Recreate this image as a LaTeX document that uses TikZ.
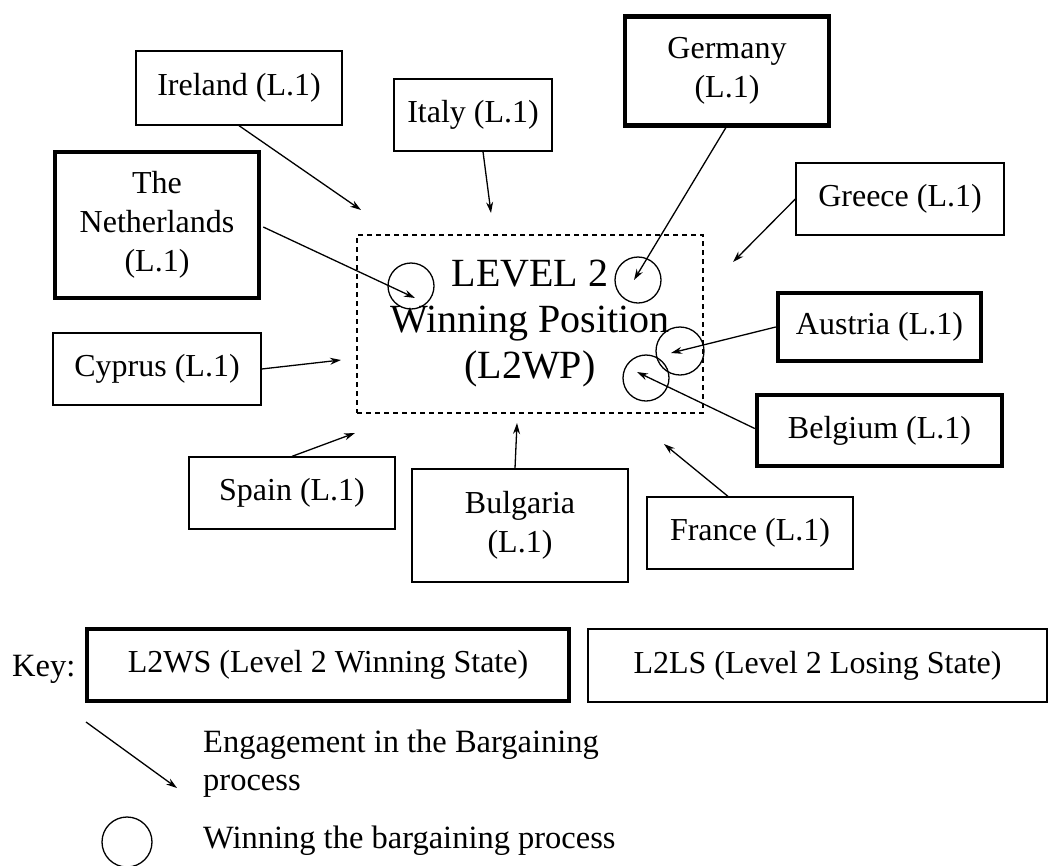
\documentclass[tikz,border=0pt]{standalone}
\usepackage{fontspec}
\setmainfont{Liberation Serif}
\usetikzlibrary{arrows.meta,calc}
\begin{document}
\begin{tikzpicture}[x=1pt,y=-1pt,
  box/.style={draw, line width=1.3pt, inner sep=0pt, align=center, font=\fontsize{32}{39}\selectfont},
  win/.style={box, line width=4.5pt},
  arr/.style={line width=1.3pt, -{Stealth[length=11pt,width=7pt]}},
  ring/.style={draw, circle, line width=1.3pt, minimum size=46pt, inner sep=0pt},
  lbl/.style={inner sep=0pt, align=left, font=\fontsize{32.5}{38}\selectfont}]
\useasboundingbox (0,0) rectangle (1062,865);
% central box
\node[draw, line width=1.3pt, dash pattern=on 5pt off 4pt, minimum width=346pt, minimum height=178pt, inner sep=0pt, align=center, font=\fontsize{40}{46}\selectfont] (wp) at (530,324) {LEVEL 2\\Winning Position\\(L2WP)};
% country boxes
\node[box, minimum width=206pt, minimum height=74pt] (ire) at (239,88) {Ireland (L.1)};
\node[box, minimum width=158pt, minimum height=72pt] (ita) at (473,115) {Italy (L.1)};
\node[win, minimum width=204pt, minimum height=109pt] (ger) at (727,71) {Germany\\(L.1)};
\node[box, minimum width=208pt, minimum height=72pt] (gre) at (900,199) {Greece (L.1)};
\node[win, minimum width=204pt, minimum height=146pt] (nl) at (157,225) {The\\Netherlands\\(L.1)};
\node[box, minimum width=208pt, minimum height=72pt] (cyp) at (157,369) {Cyprus (L.1)};
\node[win, minimum width=203pt, minimum height=68pt] (aus) at (879.5,327) {Austria (L.1)};
\node[win, minimum width=245pt, minimum height=71pt] (bel) at (879.5,430.5) {Belgium (L.1)};
\node[box, minimum width=206pt, minimum height=72pt] (spa) at (292,493) {Spain (L.1)};
\node[box, minimum width=216pt, minimum height=113pt] (bul) at (520,525.5) {Bulgaria\\(L.1)};
\node[box, minimum width=206pt, minimum height=72pt] (fra) at (750,533) {France (L.1)};
% winning circles
\node[ring] (cnl) at (411,286) {};
\node[ring] (cger) at (638,280) {};
\node[ring, minimum size=48pt] (caus) at (680,351) {};
\node[ring] (cbel) at (646,378) {};
% arrow tips
\coordinate (tire) at (361,210);
\coordinate (tita) at (491,213);
\coordinate (tnl) at (415,298);
\coordinate (tcyp) at (341,360);
\coordinate (tger) at (634,280);
\coordinate (tgre) at (733,262);
\coordinate (taus) at (671,353);
\coordinate (tbel) at (637,372);
\coordinate (tspa) at (355,433);
\coordinate (tbul) at (517,423);
\coordinate (tfra) at (664,444);
\draw[arr] (ire.south) -- (tire);
\draw[arr] ($(ita.south)+(10,0)$) -- (tita);
\draw[arr] ($(nl.east)+(2,2)$) -- (tnl);
\draw[arr] (cyp.east) -- (tcyp);
\draw[arr] ($(ger.south)+(0,-2)$) -- (tger);
\draw[arr] (gre.west) -- (tgre);
\draw[arr] (aus.west) -- (taus);
\draw[arr] ($(bel.west)+(0,-2)$) -- (tbel);
\draw[arr] (spa.north) -- (tspa);
\draw[arr] ($(bul.north)+(-5,0)$) -- (tbul);
\draw[arr] ($(fra.north)+(-22,0)$) -- (tfra);
% key
\node[lbl, anchor=base west] (key) at (12,676) {Key:};
\node[win, minimum width=482pt, minimum height=72pt] (ws) at (328,665) {L2WS (Level 2 Winning State)};
\node[box, minimum width=459pt, minimum height=73pt] (ls) at (817.5,665.5) {L2LS (Level 2 Losing State)};
\coordinate (la1) at (86,722);
\coordinate (la2) at (177,788);
\draw[arr] (la1) -- (la2);
\node[lbl, anchor=base west] (eng) at (203,790) {Engagement in the Bargaining\\process};
\node[ring, minimum size=50pt] (lc) at (127,842) {};
\node[lbl, anchor=base west] (winp) at (203,848) {Winning the bargaining process};
\end{tikzpicture}
\end{document}
